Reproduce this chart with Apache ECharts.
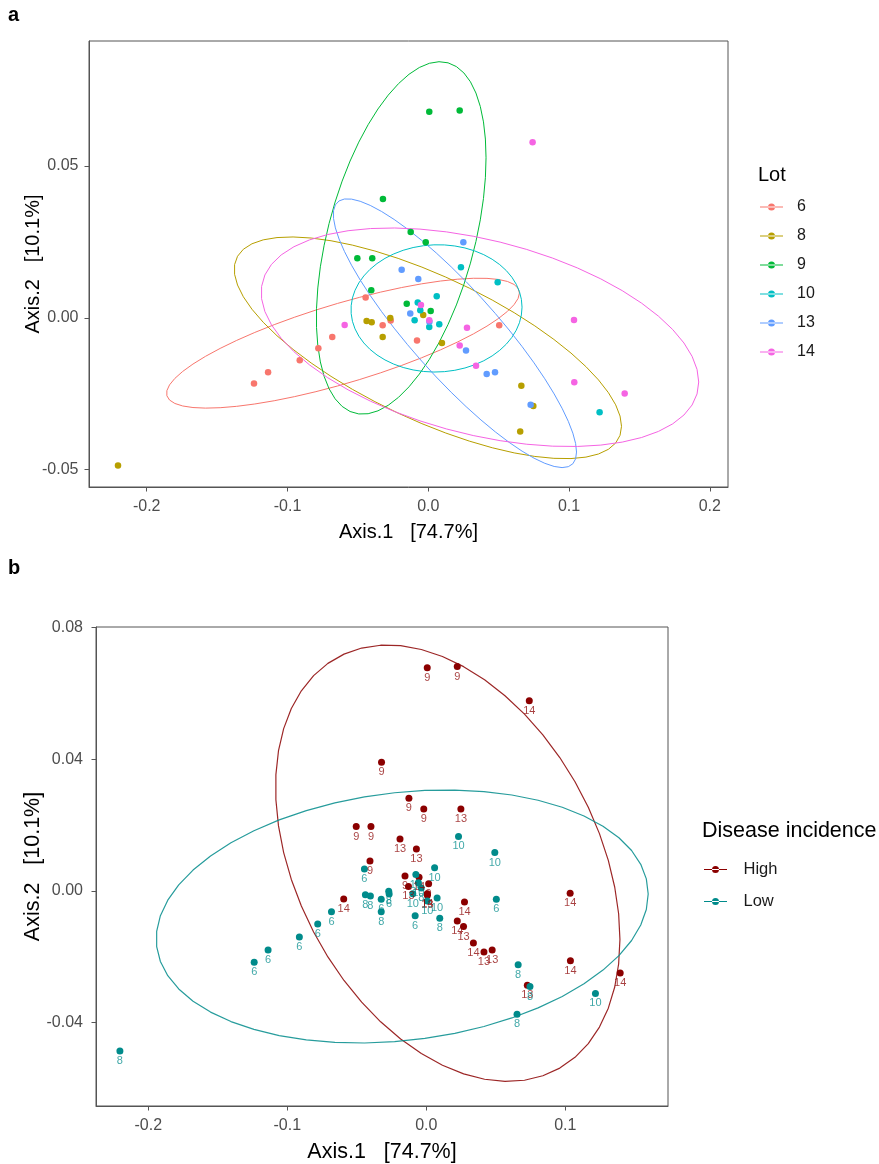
<!DOCTYPE html>
<html><head><meta charset="utf-8">
<script src="https://cdn.jsdelivr.net/npm/echarts@6/dist/echarts.min.js"></script>
<style>html,body{margin:0;padding:0;background:#fff}#c{width:879px;height:1164px}</style>
</head><body><div id="c"></div>
<script>
// ---- data (PCoA coordinates) ----
const lots = ['6', '8', '9', '10', '13', '14'];
const lotColors = ['#F8766D', '#B79F00', '#00BA38', '#00BFC4', '#619CFF', '#F564E3'];
const lot6 = [[-0.1238,-0.0216],[-0.1138,-0.0179],[-0.0913,-0.0140],[-0.0781,-0.0100],[-0.0682,-0.0063],[-0.0445,0.0067],[-0.0267,-0.0009],[-0.0324,-0.0025],[-0.0080,-0.0075],[0.0504,-0.0025]];
const lot8 = [[-0.2204,-0.0486],[-0.0036,0.0009],[-0.0270,-0.0001],[-0.0438,-0.0011],[-0.0402,-0.0015],[-0.0324,-0.0063],[0.0097,-0.0083],[0.0661,-0.0224],[0.0746,-0.0290],[0.0653,-0.0374]];
const lot9 = [[0.0007,0.0678],[0.0223,0.0682],[-0.0322,0.0391],[-0.0125,0.0282],[-0.0018,0.0249],[-0.0504,0.0196],[-0.0398,0.0196],[-0.0405,0.0091],[-0.0153,0.0046],[0.0017,0.0022]];
const lot10 = [[0.0232,0.0166],[0.0493,0.0117],[0.0060,0.0071],[-0.0075,0.0050],[-0.0057,0.0025],[-0.0097,-0.0008],[0.0007,-0.0030],[0.0078,-0.0021],[0.1217,-0.0311]];
const lot13 = [[-0.0189,0.0158],[0.0249,0.0249],[-0.0071,0.0128],[-0.0128,0.0014],[0.0008,-0.0013],[0.0268,-0.0108],[0.0415,-0.0185],[0.0474,-0.0179],[0.0727,-0.0286]];
const lot14 = [[0.0741,0.0578],[-0.0594,-0.0024],[-0.0052,0.0042],[0.0007,-0.0008],[0.0275,-0.0033],[0.0223,-0.0091],[0.1037,-0.0212],[0.1395,-0.0249],[0.1035,-0.0007],[0.0339,-0.0158]];
const lotData = [lot6, lot8, lot9, lot10, lot13, lot14];

const groups = ['High', 'Low'];
const groupLots = [['9', '13', '14'], ['6', '8', '10']];
const groupColors = ['#8B0000', '#008B8B'];

const xTicksA = [-0.2, -0.1, 0, 0.1, 0.2];
const yTicksA = [-0.05, 0, 0.05];
const xTicksB = [-0.2, -0.1, 0, 0.1];
const yTicksB = [-0.04, 0, 0.04, 0.08];
const axis1Title = 'Axis.1   [74.7%]';
const axis2Title = 'Axis.2   [10.1%]';
const legendTitleA = 'Lot';
const legendTitleB = 'Disease incidence';

// ---- confidence ellipses as ggplot2::stat_ellipse computes them ----
// type 't': MASS::cov.trob (multivariate t); type 'norm': plain covariance
function covTrob(pts) {
  const n = pts.length, p = 2, nu = 5;
  let loc = [pts.reduce((s, q) => s + q[0], 0) / n, pts.reduce((s, q) => s + q[1], 0) / n];
  let w = new Array(n).fill(1);
  let X = null;
  for (let it = 0; it < 25; it++) {
    const w0 = w.slice();
    X = pts.map(q => [q[0] - loc[0], q[1] - loc[1]]);
    const sw = w.reduce((a, b) => a + b, 0);
    let a = 0, b = 0, c = 0;
    X.forEach((d, i) => { const f = w[i] / sw; a += f * d[0] * d[0]; b += f * d[0] * d[1]; c += f * d[1] * d[1]; });
    const det = a * c - b * b;
    w = X.map(d => (nu + p) / (nu + (c * d[0] * d[0] - 2 * b * d[0] * d[1] + a * d[1] * d[1]) / det));
    const sw2 = w.reduce((s, v) => s + v, 0);
    loc = [pts.reduce((s, q, i) => s + w[i] * q[0], 0) / sw2, pts.reduce((s, q, i) => s + w[i] * q[1], 0) / sw2];
    if (w.every((v, i) => Math.abs(v - w0[i]) < 0.01)) break;
  }
  let a = 0, b = 0, c = 0;
  X.forEach((d, i) => { a += w[i] * d[0] * d[0]; b += w[i] * d[0] * d[1]; c += w[i] * d[1] * d[1]; });
  return { center: loc, cov: [a / n, b / n, c / n] };
}
function covNorm(pts) {
  const n = pts.length;
  const m = [pts.reduce((s, q) => s + q[0], 0) / n, pts.reduce((s, q) => s + q[1], 0) / n];
  let a = 0, b = 0, c = 0;
  pts.forEach(q => { const dx = q[0] - m[0], dy = q[1] - m[1]; a += dx * dx; b += dx * dy; c += dy * dy; });
  return { center: m, cov: [a / (n - 1), b / (n - 1), c / (n - 1)] };
}
function ellipseOf(pts, type) {
  const { center, cov } = type === 'norm' ? covNorm(pts) : covTrob(pts);
  const d = pts.length - 1;
  const qf = d / 2 * (Math.pow(0.05, -2 / d) - 1);
  const r = Math.sqrt(2 * qf);
  const R11 = Math.sqrt(cov[0]), R12 = cov[1] / R11, R22 = Math.sqrt(Math.max(cov[2] - R12 * R12, 0));
  const out = [];
  for (let k = 0; k <= 51; k++) {
    const t = k * 2 * Math.PI / 51, cs = Math.cos(t), sn = Math.sin(t);
    out.push([center[0] + r * cs * R11, center[1] + r * (cs * R12 + sn * R22)]);
  }
  return out;
}

// ---- chart ----
const FONT = '"Liberation Sans", Arial, sans-serif';
const legendIcon = 'path://M0,3 L23,3 L23,4.2 L0,4.2 Z M8,3.6 A3.5,3.5 0 1,0 15,3.6 A3.5,3.5 0 1,0 8,3.6 Z';

function valueAxis(gridIndex, min, max, ticks, dec, name, gap, margin, nameSize) {
  return {
    type: 'value', gridIndex, min, max,
    splitLine: { show: false },
    axisLine: { show: true, onZero: false, lineStyle: { color: '#555', width: 1 } },
    axisTick: { show: true, length: 4.5, customValues: ticks, lineStyle: { color: '#555' } },
    axisLabel: {
      customValues: ticks, margin, fontSize: 16, color: '#4D4D4D', fontFamily: FONT,
      formatter: v => (Math.abs(v) < 1e-9 ? 0 : v).toFixed(dec)
    },
    name, nameLocation: 'middle', nameGap: gap, nameMoveOverlap: false,
    nameTextStyle: { fontSize: nameSize, color: '#000', fontFamily: FONT }
  };
}

const series = [];
lots.forEach((l, i) => {
  series.push({
    name: l, type: 'scatter', xAxisIndex: 0, yAxisIndex: 0, data: lotData[i],
    symbolSize: 6.5, itemStyle: { color: lotColors[i], opacity: 1 }, z: 3
  });
});
lots.forEach((l, i) => {
  series.push({
    name: l, type: 'line', xAxisIndex: 0, yAxisIndex: 0, data: ellipseOf(lotData[i], 't'),
    symbol: 'none', showSymbol: false, silent: true, z: 2,
    lineStyle: { color: lotColors[i], width: 1 }
  });
});
groups.forEach((g, gi) => {
  const pts = [], items = [];
  groupLots[gi].forEach(l => {
    lotData[lots.indexOf(l)].forEach(q => { pts.push(q); items.push({ name: l, value: q }); });
  });
  series.push({
    name: g, type: 'scatter', xAxisIndex: 1, yAxisIndex: 1, data: items,
    symbolSize: 7, itemStyle: { color: groupColors[gi], opacity: 1 }, z: 3,
    label: { show: true, position: 'bottom', distance: 1, formatter: '{b}', fontSize: 11,
             fontFamily: FONT, color: groupColors[gi], opacity: 0.75 }
  });
  series.push({
    name: g, type: 'line', xAxisIndex: 1, yAxisIndex: 1, data: ellipseOf(pts, 'norm'),
    symbol: 'none', showSymbol: false, silent: true, z: 2,
    lineStyle: { color: groupColors[gi], width: 1.2, opacity: 0.85 }
  });
});

const option = {
  animation: false,
  backgroundColor: '#fff',
  textStyle: { fontFamily: FONT },
  title: [
    { text: 'a', left: 8, top: 5, padding: 0, textStyle: { fontSize: 20, fontWeight: 'bold', color: '#000', fontFamily: FONT } },
    { text: 'b', left: 8, top: 558, padding: 0, textStyle: { fontSize: 20, fontWeight: 'bold', color: '#000', fontFamily: FONT } },
    { text: legendTitleA, left: 758, top: 165, padding: 0, textStyle: { fontSize: 20, fontWeight: 'normal', color: '#000', fontFamily: FONT } },
    { text: legendTitleB, left: 702, top: 820, padding: 0, textStyle: { fontSize: 21.5, fontWeight: 'normal', color: '#000', fontFamily: FONT } }
  ],
  legend: [
    { orient: 'vertical', left: 760, top: 199, padding: 0, itemWidth: 23, itemHeight: 7, itemGap: 13,
      selectedMode: false, data: lots.map(l => ({ name: l, icon: legendIcon })),
      textStyle: { fontSize: 16, color: '#1a1a1a', fontFamily: FONT, padding: [0, 0, 0, 9] } },
    { orient: 'vertical', left: 704, top: 861, padding: 0, itemWidth: 24, itemHeight: 7, itemGap: 15,
      selectedMode: false, data: groups.map(g => ({ name: g, icon: legendIcon })),
      textStyle: { fontSize: 16.5, color: '#1a1a1a', fontFamily: FONT, padding: [0, 0, 0, 11] } }
  ],
  grid: [
    { left: 89, top: 41, width: 639, height: 446, show: true, borderColor: '#555', borderWidth: 1, backgroundColor: '#fff' },
    { left: 96, top: 627, width: 572, height: 479, show: true, borderColor: '#555', borderWidth: 1, backgroundColor: '#fff' }
  ],
  xAxis: [
    valueAxis(0, -0.241, 0.2129, xTicksA, 1, axis1Title, 35, 12, 20),
    valueAxis(1, -0.2376, 0.1739, xTicksB, 1, axis1Title, 35, 12, 21.5)
  ],
  yAxis: [
    valueAxis(0, -0.0557, 0.0911, yTicksA, 2, axis2Title, 46, 10.5, 20),
    valueAxis(1, -0.0653, 0.0802, yTicksB, 2, axis2Title, 52, 13, 21.5)
  ],
  series
};
const chart = echarts.init(document.getElementById('c'), null, { renderer: 'canvas' });
chart.setOption(option);
</script>
</body></html>
